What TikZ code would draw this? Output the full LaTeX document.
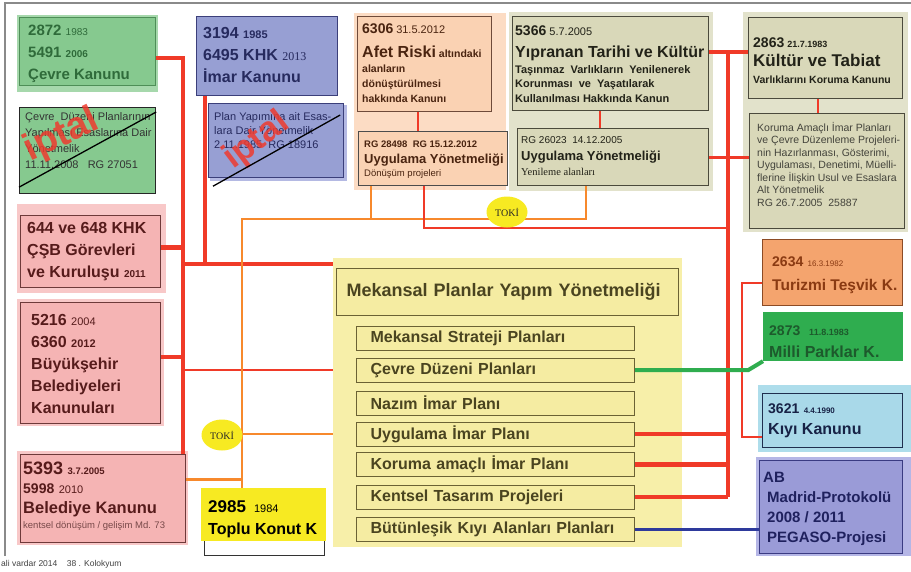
\documentclass[tikz,border=0pt]{standalone}
\usepackage{fontspec}
\setmainfont{Liberation Sans}
\newfontfamily\timesf{Liberation Serif}
\usetikzlibrary{shapes.geometric}

\definecolor{gfill}{HTML}{86C98F}
\definecolor{ghalo}{HTML}{A6D8AC}
\definecolor{gline}{HTML}{4E8E57}
\definecolor{gtext}{HTML}{2F6B3A}
\definecolor{bfill}{HTML}{979FD3}
\definecolor{bhalo}{HTML}{B4B9E3}
\definecolor{bline}{HTML}{3B3F7A}
\definecolor{btext}{HTML}{262A5E}
\definecolor{pchbg}{HTML}{FCDCC4}
\definecolor{pchfill}{HTML}{FAD2B3}
\definecolor{pchline}{HTML}{6E4B3B}
\definecolor{pchtext}{HTML}{4A2410}
\definecolor{khbg}{HTML}{E2E2CB}
\definecolor{khfill}{HTML}{D9D8B9}
\definecolor{khline}{HTML}{4B4A3C}
\definecolor{khtext}{HTML}{222218}
\definecolor{pkfill}{HTML}{F5B4B4}
\definecolor{pkhalo}{HTML}{F8C8C8}
\definecolor{pkline}{HTML}{6E3A3A}
\definecolor{pktext}{HTML}{561B1B}
\definecolor{tkyellow}{HTML}{F7EA22}
\definecolor{ylbg}{HTML}{F7EFA9}
\definecolor{ylfill}{HTML}{F5ECA2}
\definecolor{ylline}{HTML}{6B6234}
\definecolor{yltext}{HTML}{4A4420}
\definecolor{orfill}{HTML}{F4A46E}
\definecolor{orline}{HTML}{8C4B25}
\definecolor{ortext}{HTML}{8A3A12}
\definecolor{mpfill}{HTML}{2FAD4F}
\definecolor{mptext}{HTML}{1D5A2C}
\definecolor{kybg}{HTML}{AEDDEB}
\definecolor{kyfill}{HTML}{A9D9E9}
\definecolor{kyline}{HTML}{1F2F4F}
\definecolor{kytext}{HTML}{172246}
\definecolor{abfill}{HTML}{9A9BD7}
\definecolor{abhalo}{HTML}{B5B6E6}
\definecolor{abline}{HTML}{3A3B82}
\definecolor{abtext}{HTML}{1F215E}
\definecolor{redln}{HTML}{F03A28}
\definecolor{orln}{HTML}{F7892C}
\definecolor{grln}{HTML}{2FAD4F}
\definecolor{blln}{HTML}{2E3A9C}
\definecolor{iptalred}{HTML}{EE3B2F}
\definecolor{framegray}{HTML}{8A8A8A}

\newcommand{\sz}[2]{{\fontsize{#1}{#1}\selectfont #2}}

\begin{document}
\begin{tikzpicture}[x=1pt, y=-1pt,
  law box/.style={draw, line width=1.2pt, anchor=north west, inner sep=0pt},
  law text/.style={anchor=base west, align=left, inner sep=0pt},
  plan box/.style={draw=ylline, line width=1.2pt, fill=ylfill, anchor=north west, minimum height=24pt,
    text width=250pt, inner xsep=14pt, inner ysep=0pt, text=yltext, font=\bfseries\fontsize{16}{16}\selectfont},
  red thick/.style={draw=redln, line width=4.5pt},
  red mid/.style={draw=redln, line width=3pt},
  red thin/.style={draw=redln, line width=2pt},
  orange line/.style={draw=orln, line width=2.5pt},
  green line/.style={draw=grln, line width=4pt},
  blue line/.style={draw=blln, line width=3pt},
  toki/.style={ellipse, fill=tkyellow, minimum width=41pt, minimum height=31pt, inner sep=0pt,
    text=black!85, font=\timesf\fontsize{10}{10}\selectfont},
  iptal mark/.style={text=iptalred, opacity=0.85, inner sep=0pt, font=\bfseries\fontsize{38}{38}\selectfont}]

\useasboundingbox (0,0) rectangle (911,571);

% backgrounds
\fill[ghalo] (17,15) rectangle (158,92);
\fill[bhalo] (210,105) rectangle (347,181);
\fill[pchbg] (354,13) rectangle (506,190);
\fill[khbg] (509,12) rectangle (713,191);
\fill[khbg] (743,12) rectangle (908,232);
\fill[pkhalo] (17,204) rectangle (166,293);
\fill[pkhalo] (17,299) rectangle (164,426);
\fill[pkhalo] (17,451) rectangle (188,545);
\fill[kybg] (758,385) rectangle (911,452);
\fill[abhalo] (756,457) rectangle (911,556);

% left column (text nodes sit on their last baseline)
\node[law box, fill=gfill, draw=gline, minimum width=136pt, minimum height=68pt] (cevre) at (19,17) {};
\node[law text, text=gtext, font=\bfseries\fontsize{15}{22}\selectfont] (cevre-t) at (28,79)
  {2872 \sz{10}{\mdseries 1983}\\5491 \sz{10}{2006}\\Çevre Kanunu};
\node[law box, fill=gfill, draw=black!85, minimum width=136pt, minimum height=86pt] (cdy) at (19,107) {};
\node[law text, text=black!80, font=\fontsize{11}{16}\selectfont] (cdy-t) at (25,168)
  {Çevre\ \ Düzeni Planlarının\\Yapılması Esaslarına Dair\\Yönetmelik\\11.11.2008\ \ \ RG 27051};
\node[law box, fill=pkfill, draw=pkline, minimum width=140pt, minimum height=72pt] (khk) at (20,215) {};
\node[law text, text=pktext, font=\bfseries\fontsize{16}{22}\selectfont] (khk-t) at (27,277)
  {644 ve 648 KHK\\ÇŞB Görevleri\\ve Kuruluşu \sz{10}{2011}};
\node[law box, fill=pkfill, draw=pkline, minimum width=140pt, minimum height=121pt] (bsb) at (20,302) {};
\node[law text, text=pktext, font=\bfseries\fontsize{16}{22}\selectfont] (bsb-t) at (31,413)
  {5216 \sz{11}{\mdseries 2004}\\6360 \sz{11}{2012}\\Büyükşehir\\Belediyeleri\\Kanunuları};
\node[law box, fill=pkfill, draw=pkline, minimum width=165pt, minimum height=88pt] (b5393) at (20,454) {};
\node[law text, text=pktext, font=\bfseries\fontsize{16}{20}\selectfont] (b5393-t) at (23,528)
  {\sz{18}{5393} \sz{9.5}{3.7.2005}\\[-1pt]\sz{14}{5998} \sz{11}{\mdseries 2010}\\\sz{16.5}{Belediye Kanunu}\\[-5pt]\sz{9.5}{\mdseries\color{pktext!80} kentsel dönüşüm / gelişim Md. 73}};

% second column
\node[law box, fill=bfill, draw=bline, minimum width=141pt, minimum height=79pt] (imar) at (196,16) {};
\node[law text, text=btext, font=\bfseries\fontsize{16}{22}\selectfont] (imar-t) at (203,82)
  {3194 \sz{11}{1985}\\6495 KHK \sz{12}{\mdseries\timesf 2013}\\İmar Kanunu};
\node[law box, fill=bfill, draw=bline, minimum width=135pt, minimum height=74pt] (pyy) at (208,103) {};
\node[law text, text=btext, font=\fontsize{11}{14}\selectfont] (pyy-t) at (214,148)
  {Plan Yapımına ait Esas-\\lara Dair Yönetmelik\\2.11.1985\ \ RG 18916};
\node[law box, fill=white, draw=black!80, minimum width=120pt, minimum height=60pt] (toplu-f) at (204,495) {};
\node[law box, fill=tkyellow, draw=tkyellow, minimum width=124pt, minimum height=52pt] (toplu) at (201,488) {};
\node[law text, text=black, font=\bfseries\fontsize{16}{22}\selectfont] (toplu-t) at (208,534)
  {\sz{17}{2985}\hspace{8pt}\sz{11}{\mdseries 1984}\\Toplu Konut K};

% top row
\node[law box, fill=pchfill, draw=pchline, minimum width=134pt, minimum height=95pt] (afet) at (357,16) {};
\node[law text, text=pchtext, font=\bfseries\fontsize{10.5}{15}\selectfont] (afet-t) at (362,102)
  {\sz{14}{6306} \sz{11}{\mdseries 31.5.2012}\\[9pt]\sz{16}{Afet Riski} altındaki\\alanların\\dönüştürülmesi\\hakkında Kanunı};
\node[law box, fill=pchfill, draw=black!70, minimum width=149pt, minimum height=54pt] (afetu) at (358,131) {};
\node[law text, text=pchtext, font=\bfseries\fontsize{9.5}{16}\selectfont] (afetu-t) at (364,176)
  {RG 28498\ \ RG 15.12.2012\\\sz{13}{Uygulama Yönetmeliği}\\[-3pt]\sz{9.5}{\mdseries Dönüşüm projeleri}};
\node[law box, fill=khfill, draw=khline, minimum width=196pt, minimum height=94pt] (yip) at (512,16) {};
\node[law text, text=khtext, font=\bfseries\fontsize{11}{14.5}\selectfont] (yip-t) at (515,102)
  {\sz{14}{5366} \sz{11}{\mdseries 5.7.2005}\\[7.5pt]\sz{16}{Yıpranan Tarihi ve Kültür}\\[1.5pt]Taşınmaz\ \ Varlıkların\ \ Yenilenerek\\Korunması\ \ ve\ \ Yaşatılarak\\Kullanılması Hakkında Kanun};
\node[law box, fill=khfill, draw=khline, minimum width=191pt, minimum height=57pt] (yipu) at (517,128) {};
\node[law text, text=khtext, font=\fontsize{10}{17}\selectfont] (yipu-t) at (521,175)
  {RG 26023\ \ 14.12.2005\\\sz{13}{\bfseries Uygulama Yönetmeliği}\\[-2pt]\sz{10.5}{\timesf Yenileme alanları}};
\node[law box, fill=khfill, draw=khline, minimum width=154pt, minimum height=81pt] (ktv) at (748,17) {};
\node[law text, text=khtext, font=\bfseries\fontsize{10.5}{17}\selectfont] (ktv-t) at (753,83)
  {\sz{14}{2863} \sz{9}{21.7.1983}\\[2pt]\sz{17}{Kültür ve Tabiat}\\Varlıklarını Koruma Kanunu};
\node[law box, fill=khfill, draw=khline, minimum width=155pt, minimum height=115pt] (ktvu) at (749,113) {};
\node[law text, text=khtext!85, font=\fontsize{10.5}{12.5}\selectfont] (ktvu-t) at (757,206)
  {Koruma Amaçlı İmar Planları\\ve Çevre Düzenleme Projeleri-\\nin Hazırlanması, Gösterimi,\\Uygulaması, Denetimi, Müelli-\\flerine İlişkin Usul ve Esaslara\\Alt Yönetmelik\\RG 26.7.2005\ \ 25887};

% right column
\node[law box, fill=orfill, draw=orline, minimum width=140pt, minimum height=66pt] (turizm) at (762,239) {};
\node[law text, text=ortext, font=\bfseries\fontsize{15.5}{24}\selectfont] (turizm-t) at (772,290)
  {\sz{14}{2634} \sz{8}{\mdseries 16.3.1982}\\Turizmi Teşvik K.};
\node[law box, fill=mpfill, draw=mpfill, minimum width=139pt, minimum height=48pt] (milli) at (763,312) {};
\node[law text, text=mptext, font=\bfseries\fontsize{16}{22}\selectfont] (milli-t) at (769,357)
  {\sz{14}{2873}\ \ \sz{9}{11.8.1983}\\Milli Parklar K.};
\node[law box, fill=kyfill, draw=kyline, minimum width=140pt, minimum height=54pt] (kiyi) at (762,393) {};
\node[law text, text=kytext, font=\bfseries\fontsize{16}{21}\selectfont] (kiyi-t) at (768,434)
  {\sz{14}{3621} \sz{8}{4.4.1990}\\Kıyı Kanunu};
\node[law box, fill=abfill, draw=abline, minimum width=143pt, minimum height=93pt] (ab) at (759,460) {};
\node[law text, text=abtext, font=\bfseries\fontsize{15}{20}\selectfont] (ab-t) at (763,542)
  {AB\\\hspace*{4pt}Madrid-Protokolü\\\hspace*{4pt}2008 / 2011\\\hspace*{4pt}PEGASO-Projesi};

% mekansal planlar
\node[anchor=north west, fill=ylbg, minimum width=349pt, minimum height=289pt, inner sep=0pt] (mpybg) at (333,258) {};
\node[plan box, minimum height=47pt, text width=322pt, inner xsep=10pt, font=\bfseries\fontsize{18}{18}\selectfont] (mpy) at (336,268) {Mekansal Planlar Yapım Yönetmeliği};
\node[plan box] (msp) at (356,325.5) {Mekansal Strateji Planları};
\node[plan box] (cdpl) at (356,357.5) {Çevre Düzeni Planları};
\node[plan box] (nip) at (356,390.5) {Nazım İmar Planı};
\node[plan box] (uip) at (356,421.5) {Uygulama İmar Planı};
\node[plan box] (kaip) at (356,452) {Koruma amaçlı İmar Planı};
\node[plan box] (ktp) at (356,484.5) {Kentsel Tasarım Projeleri};
\node[plan box] (bkap) at (356,516.5) {Bütünleşik Kıyı Alanları Planları};

% iptal
\node[iptal mark, rotate=25] (cdy-x) at (62,136) {iptal};
\draw[black, line width=1.3pt] ([yshift=7pt]cdy.south west) -- ([yshift=-5pt]cdy.north east);
\node[iptal mark, rotate=37, font=\bfseries\fontsize{35}{35}\selectfont] (pyy-x) at (257,141) {iptal};
\draw[black, line width=1.3pt] ([xshift=5pt,yshift=-8pt]pyy.south west) -- ([xshift=-4pt,yshift=-12pt]pyy.north east);

% connectors
\coordinate (lt) at (183,58);
\coordinate (mt) at (205,264);
\coordinate (oh) at (242,219);
\coordinate (rt) at (728,52);
\coordinate (rh) at (728,228);

\draw[red thick] (cevre.east |- lt) -- (lt) -- (lt |- b5393.north);
\draw[red thick] ([yshift=4pt]khk.east) -- ([yshift=4pt]khk.east -| lt);
\draw[red thick] ([yshift=6pt]bsb.east) -- ([yshift=6pt]bsb.east -| lt);
\draw[red thick] (imar.south -| mt) -- (mt);
\draw[red thick] (lt |- mt) -- (mpybg.west |- mt);
\draw[red thin] (lt |- cdpl.west) -- (mpybg.west |- cdpl.west);

\draw[orange line] ([xshift=-27pt]yipu.south) -- ([xshift=-27pt]yipu.south |- oh) -- (oh) -- (oh |- toplu.north);
\draw[orange line] ([xshift=-62pt]afetu.south) -- ([xshift=-62pt]afetu.south |- oh);
\draw[orange line] (oh |- uip.west) -- (mpybg.west |- uip.west);
\draw[orange line] ([yshift=19pt]b5393.east) -- ([yshift=19pt]b5393.east -| oh);

\draw[red thin] ([xshift=-7pt]afet.south) -- ([xshift=-7pt]afet.south |- afetu.north);
\draw[red thin] ([xshift=-11pt]yip.south) -- ([xshift=-11pt]yip.south |- yipu.north);
\draw[red thin] ([xshift=-8pt]ktv.south) -- ([xshift=-8pt]ktv.south |- ktvu.north);
\draw[red thin] ([xshift=-9pt]afetu.south) -- ([xshift=-9pt]afetu.south |- rh) -- (rh);
\draw[red thick] (yip.east |- rt) -- (ktv.west |- rt);
\draw[red thick] (rt) -- (rt |- ktp.east);
\draw[red mid] (yipu.east) -- (yipu.east -| ktvu.west);
\draw[red thick] (uip.east) -- (uip.east -| rt);
\draw[red thick] (kaip.east) -- (kaip.east -| rt);
\draw[red thick] (ktp.east) -- (ktp.east -| rt);
\draw[red thin] ([yshift=-10pt]turizm.west) -- ++(-20,0) |- ([yshift=-16pt]kiyi.west);
\draw[green line] (cdpl.east) -- ++(113,0) -- (milli.south west);
\draw[blue line] (bkap.east) -- (bkap.east -| ab.west);

\node[toki] (toki1) at (507,212) {TOKİ};
\node[toki] (toki2) at (222,435) {TOKİ};

% frame
\draw[framegray, line width=1.2pt] (5,556) -- (5,3) -- (911,3);
\node[anchor=base west, inner sep=0pt, text=black!75, font=\fontsize{8.5}{8.5}\selectfont] (foot) at (1,566)
  {ali vardar 2014\ \ \ \ 38 . Kolokyum};
\end{tikzpicture}
\end{document}
